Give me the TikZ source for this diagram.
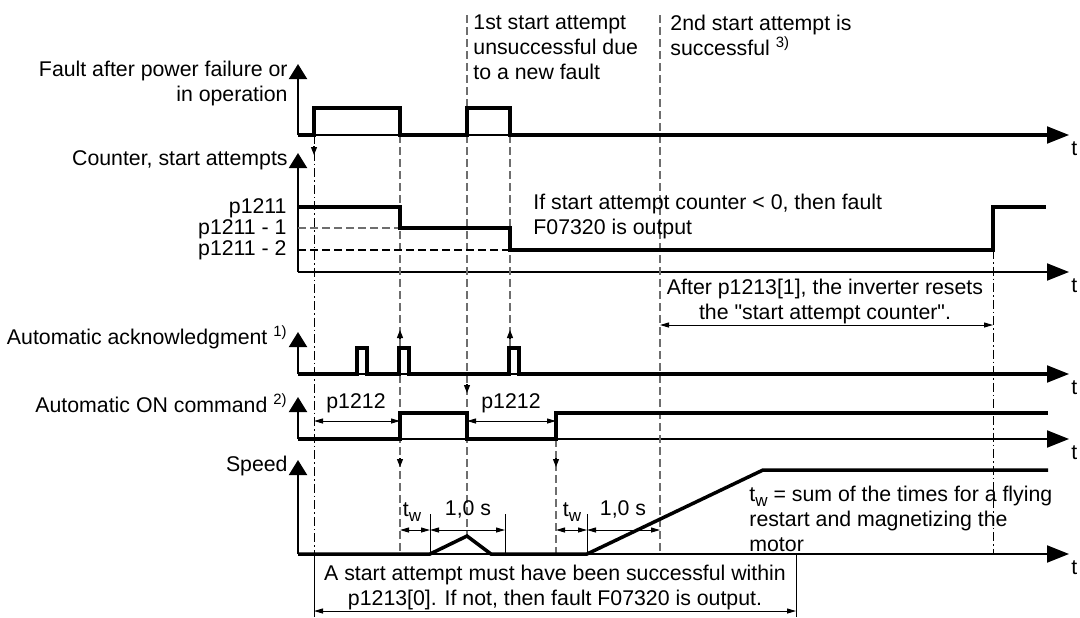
\documentclass[tikz,border=0pt]{standalone}
\usepackage{fontspec}
\setmainfont{Liberation Sans}
\usepackage{xcolor}
\definecolor{grisrepere}{HTML}{6E6E6E}
\usetikzlibrary{arrows.meta}
\newcommand{\tw}{t\raisebox{-0.45ex}{\fontsize{8.5}{8.5}\selectfont w}}

\begin{document}
\begin{tikzpicture}[x=0.5pt,y=-0.5pt,
  texte/.style={inner sep=0pt,font=\fontsize{10.65}{12.5}\selectfont},
  axe/.style={line width=1pt,-{Triangle[length=7.5pt,width=9pt]}},
  axet/.style={line width=1pt,-{Triangle[length=11pt,width=8.5pt]}},
  signal/.style={line width=1.75pt,line join=miter},
  repere/.style={draw=grisrepere,line width=0.6pt,dash pattern=on 4pt off 2pt},
  reperemixte/.style={draw=black,line width=0.5pt,dash pattern=on 4.5pt off 1.5pt on 0.8pt off 1.5pt},
  cote/.style={line width=0.5pt,{Triangle[length=4.5pt,width=2.5pt]}-{Triangle[length=4.5pt,width=2.5pt]}},
  pointe/.style={line width=0.6pt,-{Triangle[length=4pt,width=3pt]}}
]
\useasboundingbox (0,0) rectangle (1080,617);

% axes
\foreach \ya/\yt/\n in {135/64/1,272/153/2,374/332/3,439/397/4,554/460/5} {
  \draw[axe] (298,\ya) -- (298,\yt);
  \draw[axet] (298,\ya) -- (1069,\ya);
  \node[texte,anchor=base west] (t\n) at (1071,\ya+20) {t};
}

% repères verticaux
\draw[reperemixte] (314,135) -- (314,554);
\draw[repere] (400,135) -- (400,554);
\draw[repere] (467,15) -- (467,536);
\draw[repere] (510,135) -- (510,348);
\draw[repere] (556,439) -- (556,554);
\draw[repere] (660,15) -- (660,554);
\draw[reperemixte] (993,250) -- (993,554);
\draw[repere] (298,228) -- (400,228);
\draw[repere,draw=black] (298,250) -- (510,250);

% signaux
\draw[signal] (298,135) -- (314,135) -- (314,108) -- (400,108) -- (400,135) -- (467,135)
  -- (467,108) -- (510,108) -- (510,135) -- (1047,135);
\draw[signal] (298,207) -- (400,207) -- (400,228) -- (510,228) -- (510,250) -- (993,250)
  -- (993,207) -- (1046,207);
\draw[signal] (298,374) -- (357,374) -- (357,348) -- (367,348) -- (367,374) -- (399,374)
  -- (399,348) -- (409,348) -- (409,374) -- (509,374) -- (509,348) -- (519,348) -- (519,374) -- (1047,374);
\draw[signal] (298,439) -- (400,439) -- (400,413) -- (467,413) -- (467,439) -- (556,439)
  -- (556,413) -- (1048,413);
\draw[signal] (298,554) -- (430,554) -- (467,536) -- (491,554) -- (587,554) -- (763,470) -- (1048,470);

% petites flèches
\draw[pointe] (314,146) -- (314,155);
\draw[pointe] (400,339) -- (400,330);
\draw[pointe] (510,339) -- (510,330);
\draw[pointe] (467,384) -- (467,393);
\draw[pointe] (400,458) -- (400,467);
\draw[pointe] (556,458) -- (556,467);

% cotes
\draw[line width=0.5pt] (430,514) -- (430,554) (505,514) -- (505,554) (587,514) -- (587,554);
\draw[line width=0.5pt] (314,554) -- (314,617) (796,554) -- (796,617);
\draw[cote] (314,421) -- (400,421);
\draw[cote] (467,421) -- (556,421);
\draw[cote] (400,530) -- (430,530);
\draw[cote] (430,530) -- (505,530);
\draw[cote] (556,530) -- (587,530);
\draw[cote] (587,530) -- (660,530);
\draw[cote] (660,325) -- (993,325);
\draw[cote] (314,611) -- (796,611);

% textes
\node[texte,anchor=east,align=right] (lfault) at (288,83) {Fault after power failure or\\in operation};
\node[texte,anchor=east] (lcompteur) at (288,160) {Counter, start attempts};
\node[texte,anchor=east] (n0) at (287,208) {p1211};
\node[texte,anchor=east] (n1) at (287,229) {p1211 - 1};
\node[texte,anchor=east] (n2) at (287,250) {p1211 - 2};
\node[texte,anchor=east] (lack) at (288,337) {Automatic acknowledgment \textsuperscript{1)}};
\node[texte,anchor=east] (lon) at (288,403) {Automatic ON command \textsuperscript{2)}};
\node[texte,anchor=east] (lvitesse) at (288,466) {Speed};
\node[texte,anchor=west,align=left] (essai1) at (473,47) {1st start attempt\\unsuccessful due\\to a new fault};
\node[texte,anchor=west,align=left] (essai2) at (670,35) {2nd start attempt is\\successful \textsuperscript{3)}};
\node[texte,anchor=west,align=left] (compteur) at (533,216) {If start attempt counter < 0, then fault\\F07320 is output};
\node[texte,align=center] (reset) at (825,301) {After p1213[1], the inverter resets\\the \textquotedbl start attempt counter\textquotedbl.};
\node[texte,anchor=west,align=left] (tw) at (749,519) {\tw{} = sum of the times for a flying\\restart and magnetizing the\\motor};
\node[texte,align=center] (delai) at (555,587) {A start attempt must have been successful within\\p1213[0]. If not, then fault F07320 is output.};
\node[texte] (p1) at (356,403) {p1212};
\node[texte] (p2) at (511,403) {p1212};
\node[texte] (tw1) at (412,512) {\tw};
\node[texte] (d1) at (468,509) {1,0 s};
\node[texte] (tw2) at (572,512) {\tw};
\node[texte] (d2) at (623,509) {1,0 s};
\end{tikzpicture}
\end{document}
